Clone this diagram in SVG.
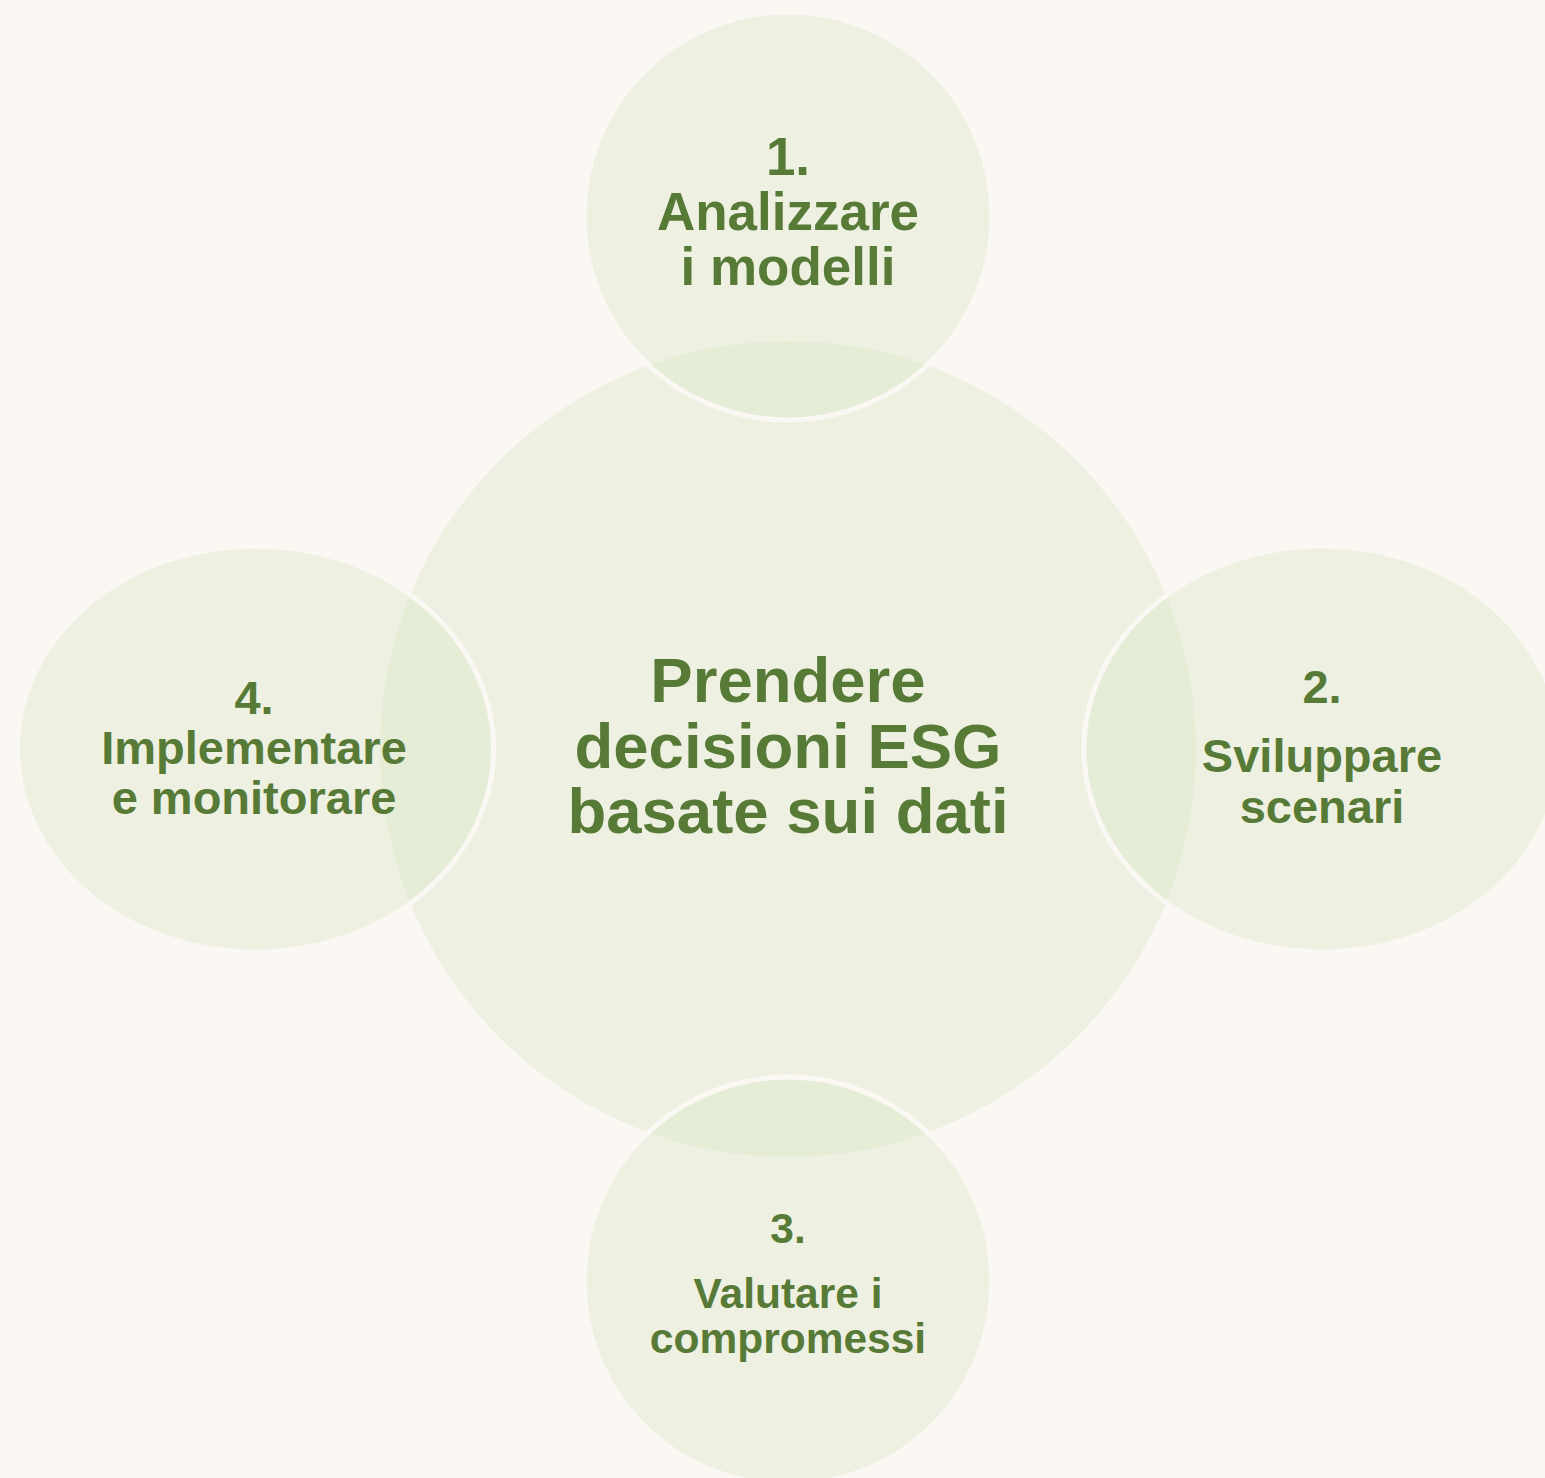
<svg xmlns="http://www.w3.org/2000/svg" width="1545" height="1478" viewBox="0 0 1545 1478">
<style>
.bg{fill:#fbf7f3}
.c{fill:#d0e3be;fill-opacity:0.3}
.sat{fill:#d0e3be;fill-opacity:0.3;stroke:#fbf7f3;stroke-width:5}
text{font-family:"Liberation Sans",Arial,sans-serif;font-weight:bold;fill:#587a37;text-anchor:middle}
.t0{font-size:63.5px}
.t1{font-size:53px}
.t2{font-size:47px}
.t3{font-size:42.5px}
</style>
<rect class="bg" x="0" y="0" width="1545" height="1478"/>
<g id="connectors"></g>
<g id="center">
<circle class="c" cx="788" cy="749" r="408"/>
<text class="t0" x="788" y="702">Prendere</text>
<text class="t0" x="788" y="768">decisioni ESG</text>
<text class="t0" x="788" y="833">basate sui dati</text>
</g>
<g id="step1">
<circle class="sat" cx="788" cy="216" r="204"/>
<text class="t1" x="788" y="175">1.</text>
<text class="t1" x="788" y="230">Analizzare</text>
<text class="t1" x="788" y="285">i modelli</text>
</g>
<g id="step2">
<ellipse class="sat" cx="1322" cy="749" rx="238" ry="203"/>
<text class="t2" x="1322" y="703">2.</text>
<text class="t2" x="1322" y="772">Sviluppare</text>
<text class="t2" x="1322" y="823">scenari</text>
</g>
<g id="step3">
<circle class="sat" cx="788" cy="1281" r="204"/>
<text class="t3" x="788" y="1243">3.</text>
<text class="t3" x="788" y="1308">Valutare i</text>
<text class="t3" x="788" y="1353">compromessi</text>
</g>
<g id="step4">
<ellipse class="sat" cx="255.5" cy="749" rx="238" ry="203"/>
<text class="t2" x="254" y="714">4.</text>
<text class="t2" x="254" y="764">Implementare</text>
<text class="t2" x="254" y="814">e monitorare</text>
</g>
</svg>
